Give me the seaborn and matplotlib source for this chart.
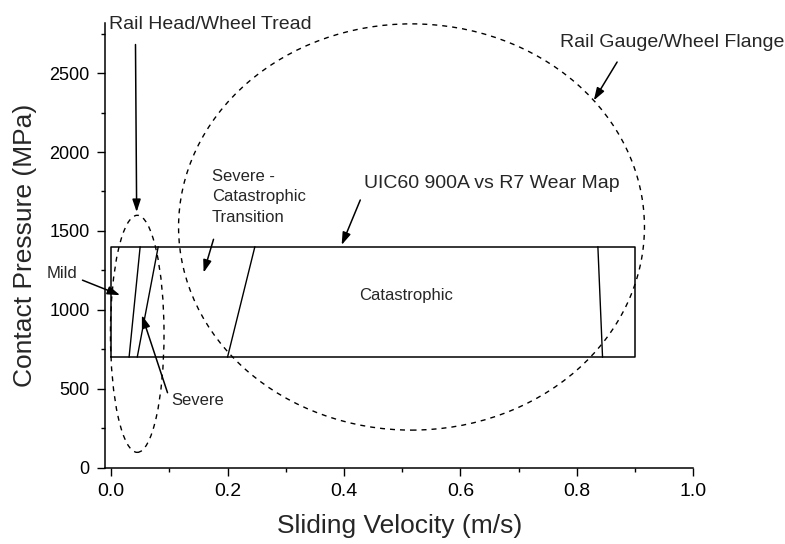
import matplotlib
matplotlib.use("Agg")
import matplotlib.pyplot as plt
from matplotlib.patches import Ellipse
from matplotlib.ticker import MultipleLocator
import seaborn as sns
import pandas as pd

# ---------------- data ----------------
rect_x = [0.0, 0.9, 0.9, 0.0, 0.0]
rect_y = [700, 700, 1400, 1400, 700]

# regime boundary lines: (x at 700 MPa, x at 1400 MPa)
boundary_bottom_x = [0.031, 0.045, 0.200, 0.844]
boundary_top_x = [0.050, 0.081, 0.247, 0.836]
boundary_y = [700, 1400]

# contact zone ellipses: centre x, centre y, width, height
ellipse_names = ["Rail Head/Wheel Tread", "Rail Gauge/Wheel Flange"]
ellipse_cx = [0.045, 0.516]
ellipse_cy = [848, 1525]
ellipse_w = [0.092, 0.800]
ellipse_h = [1502, 2574]

x_ticks = [0.0, 0.2, 0.4, 0.6, 0.8, 1.0]
y_ticks = [0, 500, 1000, 1500, 2000, 2500]

# ---------------- style ----------------
sns.set_style("ticks")
plt.rcParams["font.family"] = ["Liberation Sans", "DejaVu Sans"]

fig = plt.figure(figsize=(7.85, 5.44), dpi=100)
ax = fig.add_axes([0.1338, 0.1403, 0.7495, 0.8167])

# rectangle (wear map)
rect_df = pd.DataFrame({"x": rect_x, "y": rect_y})
sns.lineplot(data=rect_df, x="x", y="y", sort=False, estimator=None,
             color="black", lw=1.1, ax=ax)

# boundaries
rows = []
for i, (xb, xt) in enumerate(zip(boundary_bottom_x, boundary_top_x)):
    rows.append({"seg": i, "x": xb, "y": boundary_y[0]})
    rows.append({"seg": i, "x": xt, "y": boundary_y[1]})
bdf = pd.DataFrame(rows)
sns.lineplot(data=bdf, x="x", y="y", units="seg", estimator=None, sort=False,
             color="black", lw=1.0, ax=ax, legend=False)

# ellipses
for cx, cy, w, h in zip(ellipse_cx, ellipse_cy, ellipse_w, ellipse_h):
    e = Ellipse((cx, cy), w, h, fill=False, edgecolor="black", lw=1.0,
                linestyle=(0, (3.6, 3.6)), clip_on=False)
    ax.add_patch(e)

ax.set_xlim(-0.0103, 1.0)
ax.set_ylim(0, 2815)
ax.set_xticks(x_ticks)
ax.set_xticklabels([f"{v:.1f}" for v in x_ticks])
ax.set_yticks(y_ticks)
ax.xaxis.set_minor_locator(MultipleLocator(0.1))
ax.yaxis.set_minor_locator(MultipleLocator(250))
ax.tick_params(which="major", direction="out", length=6, width=1.0,
               labelsize=13, pad=5, color="black", labelcolor="black")
ax.tick_params(axis="x", which="major", labelsize=14)
ax.tick_params(which="minor", direction="out", length=3.2, width=1.0,
               color="black")
for s in ["top", "right"]:
    ax.spines[s].set_visible(False)
for s in ["left", "bottom"]:
    ax.spines[s].set_linewidth(1.1)
    ax.spines[s].set_color("black")

ax.set_xlabel("Sliding Velocity (m/s)", fontsize=19, labelpad=10)
ax.set_ylabel("Contact Pressure (MPa)", fontsize=19, labelpad=9)

arrow = dict(arrowstyle="-|>,head_length=0.75,head_width=0.25",
             color="black", lw=1.1, shrinkA=0, shrinkB=0, mutation_scale=10)

def ann(text, xy, xytext, **kw):
    ax.annotate(text, xy=xy, xytext=xytext, arrowprops=arrow,
                annotation_clip=False, **kw)

# arrows (drawn from a point, text separate)
ann("", (0.044, 1620), (0.042, 2681))
ann("", (0.829, 2327), (0.869, 2570))
ann("", (0.396, 1411), (0.428, 1696))
ann("", (0.159, 1236), (0.176, 1447))
ann("", (0.0155, 1093), (-0.049, 1188))
ann("", (0.053, 966), (0.097, 475))

# texts
ax.text(-0.003, 2805, "Rail Head/Wheel Tread", fontsize=14, ha="left",
        va="center", clip_on=False)
ax.text(0.771, 2691, "Rail Gauge/Wheel Flange", fontsize=14, ha="left",
        va="center", clip_on=False)
ax.text(0.434, 1802, "UIC60 900A vs R7 Wear Map", fontsize=14, ha="left",
        va="center")
ax.text(0.173, 1717, "Severe -\nCatastrophic\nTransition", fontsize=12,
        ha="left", va="center", linespacing=1.45)
ax.text(0.507, 1089, "Catastrophic", fontsize=12, ha="center", va="center")
ax.text(-0.110, 1230, "Mild", fontsize=12, ha="left", va="center",
        clip_on=False)
ax.text(0.104, 428, "Severe", fontsize=12, ha="left", va="center")

fig.savefig("out.png", dpi=100)
